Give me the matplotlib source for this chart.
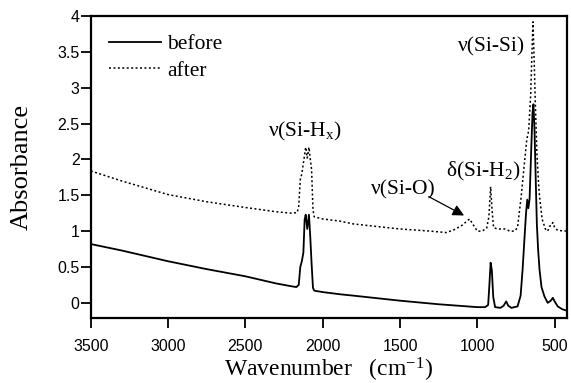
import matplotlib
matplotlib.use("Agg")
import matplotlib.pyplot as plt

# IR spectra of the film before and after treatment
wn_before = [3500, 3300, 3000, 2750, 2500, 2300, 2200, 2170, 2155, 2145, 2135,
             2125, 2117, 2110, 2100, 2089, 2080, 2072, 2063, 2055, 2000, 1890,
             1800, 1500, 1250, 1000, 950, 930, 922, 914, 906, 897, 885, 850,
             830, 813, 800, 780, 760, 740, 720, 707, 695, 685, 677, 670, 662,
             652, 643, 637, 630, 622, 615, 607, 598, 585, 566, 545, 525, 512,
             500, 480, 450, 420]
abs_before = [0.82, 0.73, 0.58, 0.47, 0.37, 0.27, 0.23, 0.22, 0.25, 0.50, 0.58,
              0.70, 1.16, 1.23, 1.03, 1.23, 0.90, 0.55, 0.21, 0.17, 0.15, 0.12,
              0.10, 0.03, -0.02, -0.06, -0.06, -0.03, 0.25, 0.56, 0.45, 0.08,
              -0.06, -0.07, -0.04, 0.02, -0.04, -0.07, -0.06, -0.05, 0.10,
              0.47, 0.90, 1.25, 1.44, 1.32, 1.45, 2.10, 2.65, 2.77, 2.40, 1.70,
              1.10, 0.75, 0.47, 0.22, 0.09, 0.00, 0.03, 0.07, 0.02, -0.05,
              -0.09, -0.11]

wn_after = [3500, 3300, 3000, 2750, 2500, 2300, 2200, 2165, 2155, 2145, 2135,
            2125, 2110, 2100, 2089, 2080, 2072, 2063, 2055, 2000, 1890, 1800,
            1500, 1300, 1200, 1150, 1100, 1050, 1030, 1000, 970, 940, 925, 914,
            905, 895, 870, 820, 790, 760, 740, 716, 695, 680, 668, 655, 645,
            640, 634, 625, 615, 605, 598, 581, 560, 545, 532, 520, 512, 500,
            480, 420]
abs_after = [1.84, 1.70, 1.51, 1.41, 1.33, 1.27, 1.25, 1.26, 1.35, 1.72, 1.80,
             1.95, 2.17, 2.02, 2.17, 2.00, 1.86, 1.30, 1.20, 1.17, 1.14, 1.10,
             1.03, 1.00, 0.98, 1.02, 1.08, 1.17, 1.10, 1.00, 1.00, 1.04, 1.20,
             1.62, 1.30, 1.05, 1.03, 1.03, 1.00, 1.00, 1.05, 1.49, 1.96, 2.28,
             2.40, 2.90, 3.60, 3.92, 3.50, 2.80, 2.10, 1.70, 1.49, 1.17, 1.03,
             1.00, 1.07, 1.08, 1.12, 1.05, 1.01, 1.00]

x_ticks = [3500, 3000, 2500, 2000, 1500, 1000, 500]
y_ticks = [0, 0.5, 1, 1.5, 2, 2.5, 3, 3.5, 4]
y_ticklabels = ['0', '0.5', '1', '1.5', '2', '2.5', '3', '3.5', '4']

plt.rcParams['font.family'] = ['Liberation Serif', 'DejaVu Serif']
plt.rcParams['mathtext.fontset'] = 'custom'
plt.rcParams['mathtext.rm'] = 'Liberation Serif'
plt.rcParams['mathtext.it'] = 'Liberation Serif'

fig = plt.figure(figsize=(5.71, 3.83), dpi=100)
ax = fig.add_axes([0.159, 0.170, 0.834, 0.788])

ax.plot(wn_before, abs_before, color='black', lw=1.3, label='before')
ax.plot(wn_after, abs_after, color='black', lw=1.1, ls=(0, (1.3, 1.6)),
        label='after')

ax.set_xlim(3500, 420)
ax.set_ylim(-0.21, 4)
ax.set_xticks(x_ticks)
ax.set_yticks(y_ticks)
ax.set_yticklabels(y_ticklabels)
ax.tick_params(direction='out', length=7, width=1.3, labelsize=11.5)
ax.tick_params(axis='x', pad=8)
ax.tick_params(axis='y', pad=1)
for lab in ax.get_xticklabels() + ax.get_yticklabels():
    lab.set_family(['Liberation Sans Narrow', 'Liberation Sans'])
for sp in ax.spines.values():
    sp.set_linewidth(1.6)

ax.set_xlabel('Wavenumber   (cm$^{-1}$)', fontsize=17)
ax.xaxis.set_label_coords(0.5, -0.125)
ax.set_ylabel('Absorbance', fontsize=19)
ax.yaxis.set_label_coords(-0.122, 0.5)

ax.legend(loc='upper left', frameon=False, fontsize=15.5, handlelength=2.4,
          handletextpad=0.3, labelspacing=0.3, borderaxespad=0.45)

ax.text(2117, 2.39, r'ν(Si-H$_{\mathregular{x}}$)', fontsize=15.5, ha='center', va='center')
ax.text(908, 3.57, 'ν(Si-Si)', fontsize=15.5, ha='center', va='center')
ax.text(960, 1.83, r'δ(Si-H$_{\mathregular{2}}$)', fontsize=15.5, ha='center', va='center')
ax.text(1477, 1.58, 'ν(Si-O)', fontsize=15.5, ha='center', va='center')
ax.annotate('', xy=(1070, 1.20), xytext=(1330, 1.50),
            arrowprops=dict(arrowstyle='-|>', color='black', lw=0.9,
                            mutation_scale=17))

fig.savefig('out.png', dpi=100)
